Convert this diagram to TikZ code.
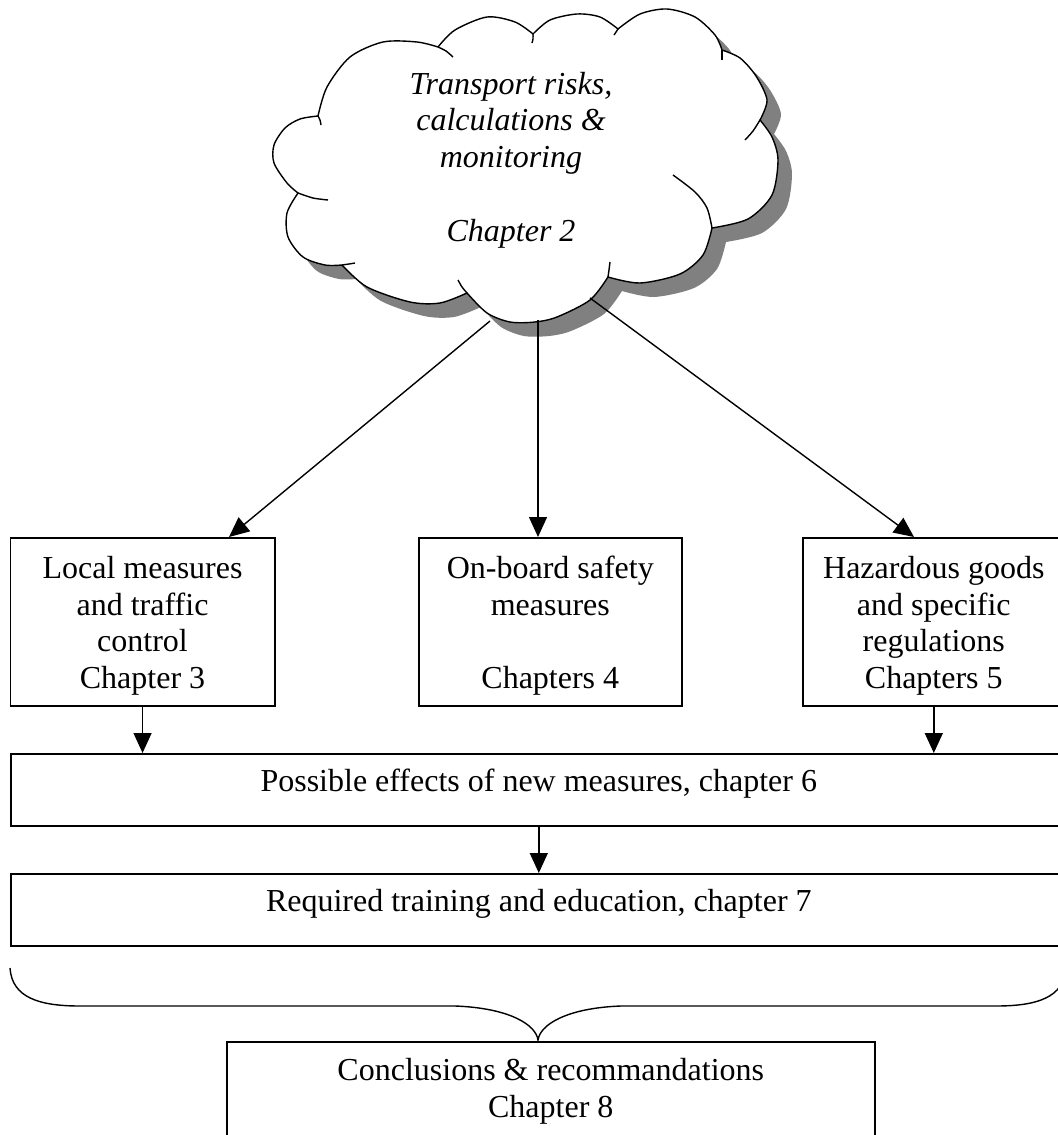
\documentclass[tikz,border=0pt]{standalone}
\usepackage{fontspec}
\setmainfont{Liberation Serif}
\usetikzlibrary{arrows.meta,calc}
\definecolor{shadowgray}{HTML}{808080}
\newcommand\cloudoutline{
 plot[smooth] coordinates {(318,116) (327,87) (350,57) (383,42) (417,42) (438,47)}
 -- plot[smooth] coordinates {(438,47) (455,30) (487,17) (515,22) (533,34)}
 -- plot[smooth] coordinates {(533,34) (550,20) (577,14) (600,17) (618,29)}
 -- plot[smooth] coordinates {(618,29) (640,14) (667,9) (695,17) (715,35) (722,50)}
 -- plot[smooth] coordinates {(722,50) (740,58) (756,76) (767,100) (760,120)}
 -- plot[smooth] coordinates {(760,120) (772,137) (778,160) (772,195) (748,219) (712,228)}
 -- plot[smooth] coordinates {(712,228) (703,255) (680,274) (640,283) (608,277)}
 -- plot[smooth] coordinates {(608,277) (590,300) (557,317) (535,322) (510,322) (487,313) (467,293)}
 -- plot[smooth] coordinates {(467,293) (440,303) (410,302) (367,287) (342,265)}
 -- plot[smooth] coordinates {(342,265) (325,265) (303,257) (288,237) (287,213) (298,193)}
 -- plot[smooth] coordinates {(298,193) (287,183) (274,163) (274,145) (285,128) (300,119) (318,116)}
 -- cycle}
\newcommand\topstrut{\rule{0pt}{15pt}}
\tikzset{
 box/.style={draw, line width=0.8pt, rectangle, anchor=north west, inner sep=0pt,
   align=center, font=\fontsize{16}{18.4}\selectfont},
 link/.style={line width=0.7pt, -{Triangle[length=10pt,width=9pt]}},
 cloudline/.style={line width=0.7pt},
 cloudtext/.style={font=\fontsize{16}{18.4}\selectfont\itshape, align=center}
}
\begin{document}
\begin{tikzpicture}[x=0.5pt,y=-0.5pt]
\useasboundingbox (0,0) rectangle (1058,1135);
\clip (0,0) rectangle (1058,1135);
% cloud shadow
\begin{scope}[shift={(14,14)}]
 \fill[shadowgray] \cloudoutline;
\end{scope}
% cloud
\filldraw[fill=white, cloudline] \cloudoutline;
% inner ticks of the cloud
\draw[cloudline] plot[smooth] coordinates {(438,47) (446,51) (453,57)};
\draw[cloudline] plot[smooth] coordinates {(318,116) (320,120) (321,125)};
\draw[cloudline] plot[smooth] coordinates {(533,34) (533,39) (532,43)};
\draw[cloudline] plot[smooth] coordinates {(618,29) (616,32) (614,35)};
\draw[cloudline] plot[smooth] coordinates {(722,50) (722,55) (722,60)};
\draw[cloudline] plot[smooth] coordinates {(760,120) (753,131) (745,140)};
\draw[cloudline] plot[smooth] coordinates {(673,175) (695,192) (707,208) (712,228)};
\draw[cloudline] plot[smooth] coordinates {(608,277) (609,270) (610,262)};
\draw[cloudline] plot[smooth] coordinates {(467,293) (462,287) (458,280)};
\draw[cloudline] plot[smooth] coordinates {(342,265) (349,264) (355,263)};
\draw[cloudline] plot[smooth] coordinates {(298,193) (313,198) (328,200)};
\node[cloudtext] (ctext) at (511,160) {Transport risks,\\calculations \&\\monitoring\\ \mbox{}\\ Chapter 2};
\coordinate (cA) at (490,321);
\coordinate (cB) at (538,320);
\coordinate (cC) at (590,298);
% boxes
\node[box, minimum width=132.25pt, minimum height=84pt] (lb) at (9.5,537)
  {\topstrut Local measures\\and traffic\\control\\Chapter 3};
\node[box, minimum width=131.5pt, minimum height=84pt] (mb) at (418,537)
  {\topstrut On-board safety\\measures\\ \mbox{}\\ Chapters 4};
\node[box, minimum width=131pt, minimum height=84pt] (rb) at (802,537)
  {\topstrut Hazardous goods\\and specific\\regulations\\Chapters 5};
\node[box, minimum width=528pt, minimum height=36pt, text height=11pt, text depth=9pt] (b6) at (10,753)
  {Possible effects of new measures, chapter 6};
\node[box, minimum width=528pt, minimum height=36pt, text height=11pt, text depth=9pt] (b7) at (10,873)
  {Required training and education, chapter 7};
\node[box, minimum width=324pt, minimum height=49.5pt] (b8) at (226,1041)
  {Conclusions \& recommandations\\Chapter 8};
% connectors
\draw[link] (cA) -- ($(lb.north west)+(219.5,0)$);
\draw[link] (cB) -- ($(mb.north west)+(120,0)$);
\draw[link] (cC) -- ($(rb.north west)+(112,0)$);
\draw[link] (lb.south) -- (lb.south |- b6.north);
\draw[link] (rb.south) -- (rb.south |- b6.north);
\draw[link] (b6.south) -- (b7.north);
% brace
\draw[line width=0.7pt] (10,968) .. controls (12,998) and (40,1006) .. (80,1006)
  -- (455,1006) .. controls (510,1008) and (536,1025) .. (538,1040)
  .. controls (540,1025) and (566,1008) .. (621,1006)
  -- (996,1006) .. controls (1036,1006) and (1064,998) .. (1066,968);
\end{tikzpicture}
\end{document}
